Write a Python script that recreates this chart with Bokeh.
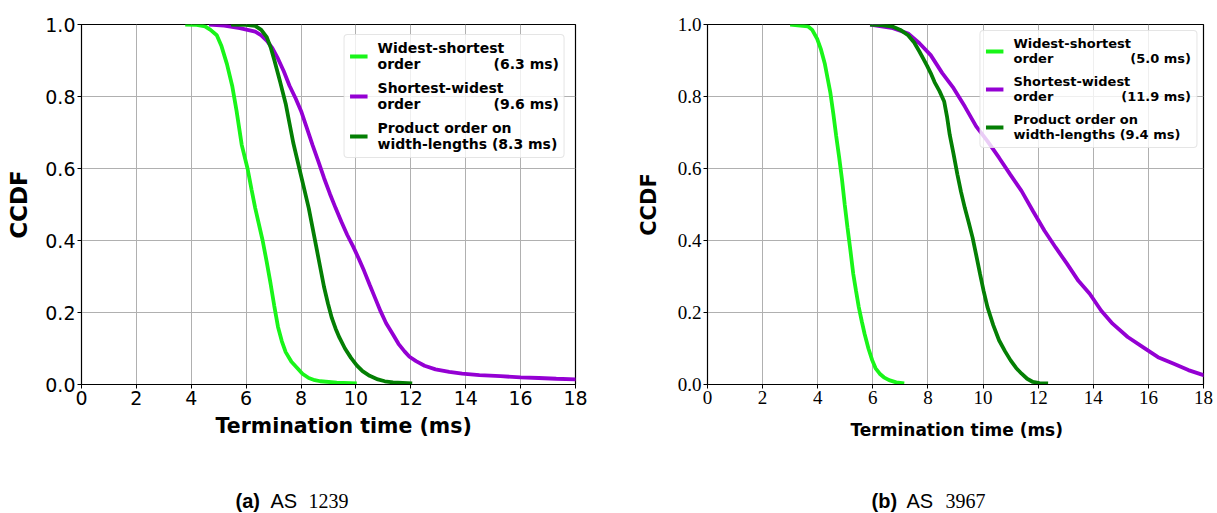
from bokeh.plotting import figure
from bokeh.layouts import column, row
from bokeh.models import Legend, LegendItem, FixedTicker, Range1d, CustomJSTickFormatter, Title
from bokeh.core.properties import value
from bokeh.embed import file_html
from bokeh.resources import INLINE

# ---- data: AS 1239 ----
a_ws_x = [3.78, 4.2, 4.5, 4.7, 4.93, 5.1, 5.3, 5.49, 5.65, 5.84, 6.05, 6.2, 6.33, 6.6, 6.75, 6.89, 7.02, 7.16, 7.3, 7.44, 7.65, 7.86, 8.05, 8.28, 8.5, 8.7, 9.3, 10.03]
a_ws_y = [1.0, 0.999, 0.995, 0.985, 0.97, 0.94, 0.89, 0.83, 0.76, 0.665, 0.6, 0.54, 0.49, 0.40, 0.34, 0.28, 0.22, 0.16, 0.12, 0.09, 0.063, 0.046, 0.03, 0.018, 0.012, 0.009, 0.005, 0.003]
a_sw_x = [4.65, 5.2, 5.77, 6.33, 6.55, 6.75, 6.95, 7.16, 7.37, 7.58, 7.8, 8.0, 8.2, 8.42, 8.63, 8.84, 9.05, 9.26, 9.47, 9.68, 9.9, 10.1, 10.3, 10.5, 10.7, 10.9, 11.1, 11.35, 11.55, 11.77, 11.95, 12.19, 12.5, 12.9, 13.4, 13.87, 14.5, 15.27, 16.0, 16.66, 17.3, 18.0, 19.0]
a_sw_y = [1.0, 0.997, 0.99, 0.98, 0.97, 0.955, 0.935, 0.905, 0.87, 0.83, 0.795, 0.76, 0.715, 0.665, 0.62, 0.573, 0.53, 0.49, 0.452, 0.416, 0.383, 0.35, 0.315, 0.277, 0.24, 0.203, 0.17, 0.139, 0.113, 0.092, 0.077, 0.065, 0.052, 0.042, 0.035, 0.03, 0.026, 0.023, 0.02, 0.018, 0.016, 0.014, 0.012]
a_po_x = [5.45, 6.0, 6.33, 6.55, 6.75, 6.9, 7.03, 7.24, 7.44, 7.58, 7.72, 7.86, 8.0, 8.14, 8.28, 8.42, 8.56, 8.7, 8.84, 8.98, 9.12, 9.26, 9.4, 9.6, 9.82, 10.03, 10.24, 10.5, 10.8, 11.05, 11.35, 12.05]
a_po_y = [1.0, 0.999, 0.996, 0.985, 0.965, 0.935, 0.9, 0.84, 0.78, 0.725, 0.67, 0.625, 0.58, 0.535, 0.49, 0.435, 0.38, 0.325, 0.27, 0.225, 0.185, 0.155, 0.13, 0.1, 0.074, 0.053, 0.037, 0.024, 0.014, 0.009, 0.006, 0.003]

# ---- data: AS 3967 ----
b_ws_x = [3.0, 3.64, 3.8, 3.98, 4.12, 4.26, 4.36, 4.46, 4.57, 4.67, 4.78, 4.88, 4.98, 5.08, 5.19, 5.29, 5.39, 5.49, 5.6, 5.70, 5.84, 5.98, 6.1, 6.25, 6.4, 6.59, 6.85, 7.14]
b_ws_y = [1.0, 0.995, 0.985, 0.96, 0.93, 0.89, 0.85, 0.81, 0.75, 0.69, 0.63, 0.57, 0.5, 0.436, 0.37, 0.307, 0.26, 0.215, 0.175, 0.141, 0.1, 0.067, 0.045, 0.03, 0.02, 0.012, 0.006, 0.003]
b_sw_x = [5.9, 6.73, 7.28, 7.69, 8.1, 8.52, 8.93, 9.34, 9.75, 10.16, 10.58, 10.99, 11.4, 11.81, 12.23, 12.64, 13.05, 13.46, 13.87, 14.29, 14.7, 15.25, 15.8, 16.35, 16.9, 17.45, 18.0, 19.0]
b_sw_y = [1.0, 0.99, 0.975, 0.948, 0.915, 0.865, 0.823, 0.772, 0.717, 0.676, 0.63, 0.583, 0.537, 0.482, 0.427, 0.38, 0.335, 0.288, 0.252, 0.205, 0.169, 0.132, 0.104, 0.076, 0.058, 0.04, 0.026, 0.015]
b_po_x = [5.9, 6.3, 6.73, 7.0, 7.28, 7.5, 7.69, 7.83, 7.97, 8.1, 8.24, 8.42, 8.59, 8.69, 8.79, 8.93, 9.07, 9.2, 9.34, 9.48, 9.62, 9.75, 9.89, 10.02, 10.16, 10.37, 10.58, 10.8, 11.0, 11.2, 11.4, 11.6, 11.81, 12.05, 12.36]
b_po_y = [1.0, 0.998, 0.994, 0.985, 0.97, 0.95, 0.925, 0.905, 0.885, 0.865, 0.84, 0.815, 0.786, 0.745, 0.694, 0.64, 0.583, 0.535, 0.49, 0.45, 0.408, 0.36, 0.307, 0.26, 0.215, 0.165, 0.123, 0.092, 0.067, 0.046, 0.03, 0.016, 0.007, 0.004, 0.003]

x_ticks = [0, 2, 4, 6, 8, 10, 12, 14, 16, 18]
y_ticks = [0.0, 0.2, 0.4, 0.6, 0.8, 1.0]

a_labels = ["Widest-shortest\norder               (6.3 ms)",
            "Shortest-widest\norder               (9.6 ms)",
            "Product order on\nwidth-lengths (8.3 ms)"]
b_labels = ["Widest-shortest\norder                 (5.0 ms)",
            "Shortest-widest\norder               (11.9 ms)",
            "Product order on\nwidth-lengths (9.4 ms)"]

C_WS = "#19f519"
C_SW = "#9400d3"
C_PO = "#047f04"


def make_panel(series, labels, width, bl, br, tick_font, tick_size, xlab_size, xlab_offset,
               xlab_standoff, ylab_size, ylab_standoff, leg_margin, leg_size):
    p = figure(width=width, height=450, output_backend="svg", toolbar_location=None,
               x_range=Range1d(0, 18), y_range=Range1d(0, 1),
               min_border_left=bl, min_border_right=br, min_border_top=24, min_border_bottom=66)
    p.outline_line_color = "black"
    p.outline_line_width = 1.2
    renderers = []
    for (xs, ys), col in zip(series, [C_WS, C_SW, C_PO]):
        r = p.line(xs, ys, line_color=col, line_width=3.8)
        renderers.append(r)
    for ax in (p.xaxis[0], p.yaxis[0]):
        ax.major_label_text_font = tick_font
        ax.major_label_text_font_size = tick_size
        ax.major_label_text_color = "black"
        ax.axis_line_color = "black"
        ax.major_tick_line_color = "black"
        ax.major_tick_out = 4
        ax.major_tick_in = 0
        ax.minor_tick_line_color = None
        ax.axis_label_text_font = "DejaVu Sans"
        ax.axis_label_text_font_style = "bold"
        ax.axis_label_text_color = "black"
        ax.major_label_standoff = 2
    p.xaxis.ticker = FixedTicker(ticks=x_ticks)
    p.yaxis.ticker = FixedTicker(ticks=y_ticks)
    p.yaxis.formatter = CustomJSTickFormatter(code="return tick.toFixed(1);")
    xt = Title(text="Termination time (ms)", align="left", offset=xlab_offset,
               text_font="DejaVu Sans", text_font_style="bold", text_font_size=xlab_size,
               text_color="black", standoff=xlab_standoff)
    p.add_layout(xt, "below")
    p.yaxis.axis_label = "CCDF"
    p.yaxis.axis_label_text_font_size = ylab_size
    p.yaxis.axis_label_standoff = ylab_standoff
    p.xgrid.grid_line_color = "#b0b0b0"
    p.ygrid.grid_line_color = "#b0b0b0"
    p.xgrid.grid_line_width = 1
    p.ygrid.grid_line_width = 1
    items = [LegendItem(label=l, renderers=[r]) for l, r in zip(labels, renderers)]
    leg = Legend(items=items, location="top_right")
    leg.label_text_font = "DejaVu Sans"
    leg.label_text_font_style = "bold"
    leg.label_text_font_size = leg_size
    leg.label_text_color = "black"
    leg.label_text_line_height = 1.0
    leg.label_height = 30
    leg.glyph_width = 18
    leg.glyph_height = 10
    leg.spacing = 8
    leg.padding = 5
    leg.margin = leg_margin
    leg.label_standoff = 10
    leg.border_line_color = "#cccccc"
    leg.border_line_width = 1
    leg.border_radius = 4
    leg.background_fill_alpha = 0.8
    p.add_layout(leg)
    return p


pa = make_panel([(a_ws_x, a_ws_y), (a_sw_x, a_sw_y), (a_po_x, a_po_y)], a_labels,
                608, 81, 33, "DejaVu Sans", "19px", "20.5px", 134, 9, "23px", 10, 10, "14px")
pb = make_panel([(b_ws_x, b_ws_y), (b_sw_x, b_sw_y), (b_po_x, b_po_y)], b_labels,
                609, 99, 14, "Liberation Serif", "19px", "17px", 143, 22, "21px", 14, 6, "13px")

# caption strip
cap = figure(width=1217, height=63, output_backend="svg", toolbar_location=None,
             x_range=Range1d(0, 1217), y_range=Range1d(0, 63),
             min_border=0, outline_line_color=None)
cap.axis.visible = False
cap.grid.visible = False
cap_x_bold = [235, 871]
cap_bold = ["(a)", "(b)"]
cap_x_as = [270, 906]
cap_x_num = [308, 945]
cap_num = ["1239", "3967"]
cap_y = [13, 13]
cap.text(cap_x_bold, cap_y, text=cap_bold, text_font=value("Liberation Sans"), text_font_style="bold",
         text_font_size="20px", text_baseline="middle")
cap.text(cap_x_as, cap_y, text=["AS", "AS"], text_font=value("Liberation Sans"),
         text_font_size="20px", text_baseline="middle")
cap.text(cap_x_num, cap_y, text=cap_num, text_font=value("Liberation Serif"),
         text_font_size="20px", text_baseline="middle")

layout = column(row(pa, pb), cap, spacing=0)
open("out.html", "w").write(file_html(layout, INLINE))
